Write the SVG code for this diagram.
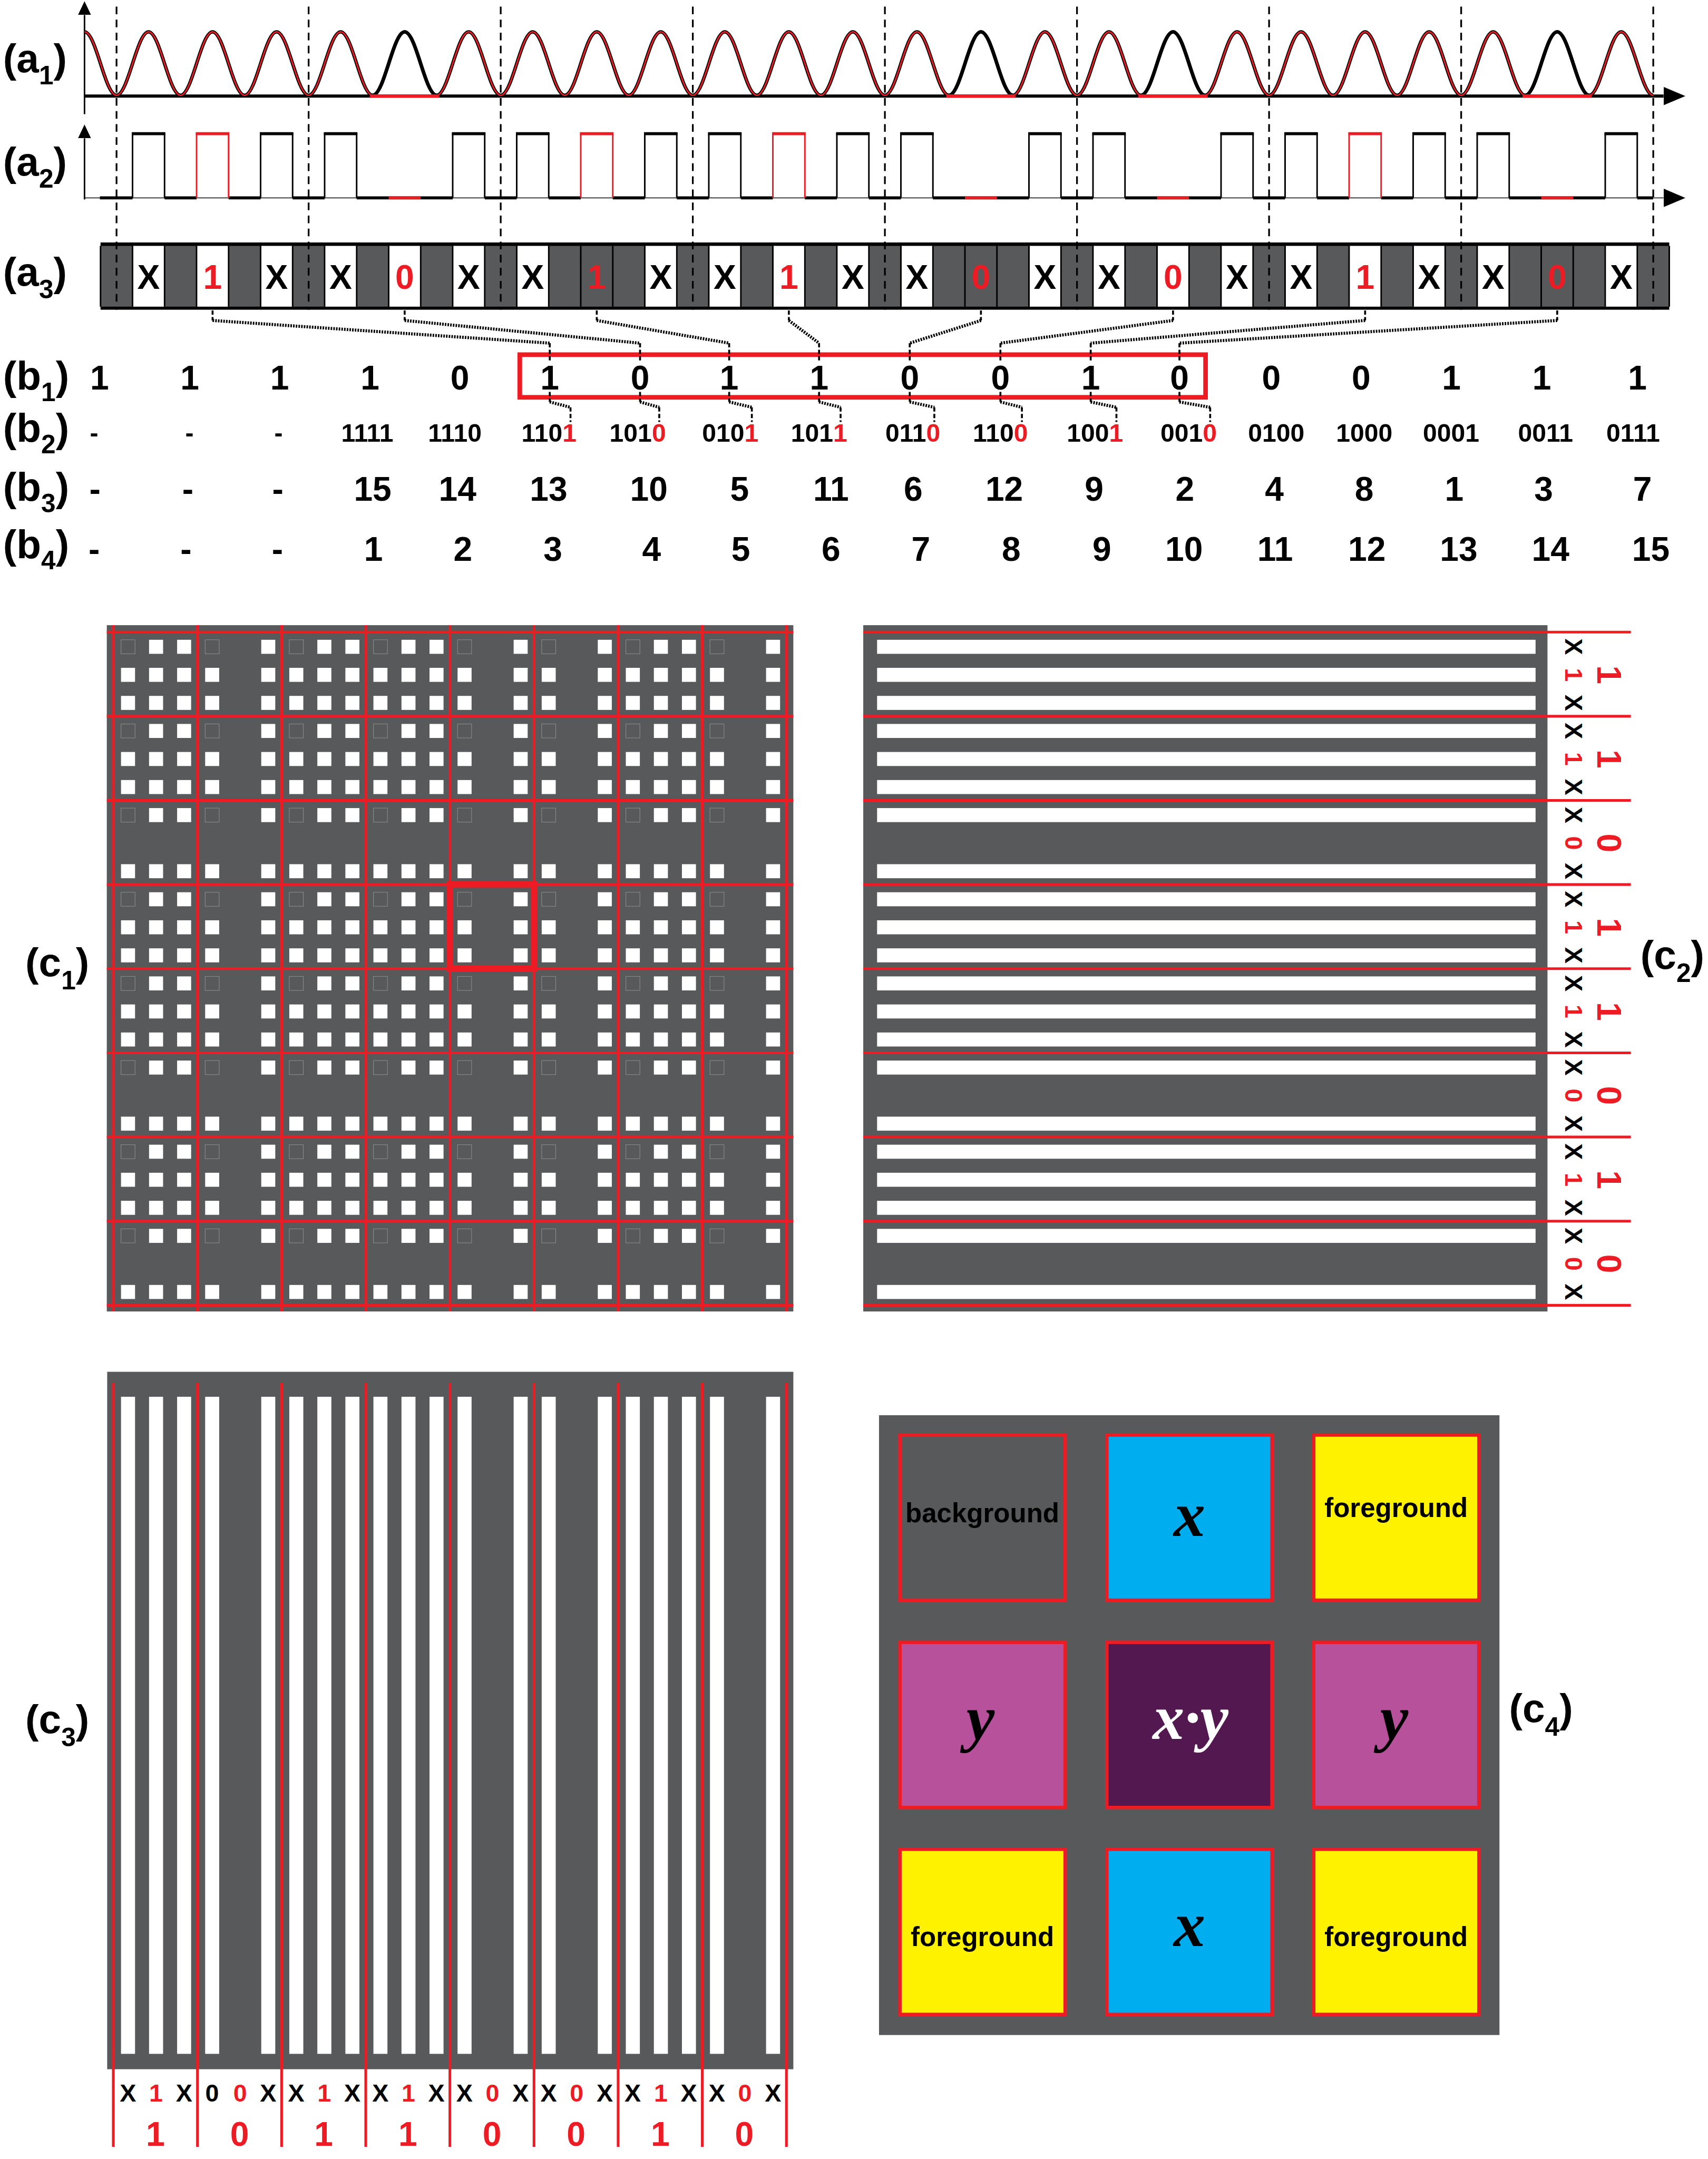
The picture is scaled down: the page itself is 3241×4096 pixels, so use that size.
<svg xmlns="http://www.w3.org/2000/svg" xmlns:xlink="http://www.w3.org/1999/xlink" width="3241" height="4096" viewBox="0 0 3241 4096">
<defs>
<style>
.t{font-family:"Liberation Sans",Arial,sans-serif;font-weight:bold;fill:#000}
.lb{font-size:105px}
.d88{font-size:88px;text-anchor:middle}
.d66{font-size:66px;text-anchor:middle}
.d64{font-size:64px;text-anchor:middle}
.red{fill:#ed1c24}
.w{fill:#fff}
.g{fill:#58595b}
.rl{stroke:#ed1c24;stroke-width:7;fill:none}
.vd{stroke:#000;stroke-width:4.5;stroke-dasharray:20 14;fill:none}
.cd{stroke:#000;stroke-width:5;stroke-dasharray:11 6;fill:none}
.cp{stroke:#000;stroke-width:8;stroke-dasharray:4 3;fill:none}
.m{font-family:"Liberation Serif","Times New Roman",serif;font-style:italic;font-weight:bold;font-size:165px;text-anchor:middle}
.cl{font-size:70px;text-anchor:middle}
.q{stroke:#ed1c24;stroke-width:9}
</style>
<marker id="ah" markerUnits="userSpaceOnUse" markerWidth="57" markerHeight="48" refX="0" refY="24" orient="auto" viewBox="0 0 57 48"><path d="M0,0L57,24L0,48z" fill="#000"/></marker>
<marker id="av" markerUnits="userSpaceOnUse" markerWidth="36" markerHeight="34" refX="0" refY="17" orient="auto" viewBox="0 0 36 34"><path d="M0,0L36,17L0,34z" fill="#000"/></marker>
<path id="wv" fill="none" d="M220,83c30.28,0 53.05,165 83.333,165
s53.05,-165 83.333,-165s53.05,165 83.333,165 s53.05,-165 83.333,-165s53.05,165 83.333,165 s53.05,-165 83.333,-165s53.05,165 83.333,165 s53.05,-165 83.333,-165s53.05,165 83.333,165
s53.05,-165 83.333,-165s53.05,165 83.333,165 s53.05,-165 83.333,-165s53.05,165 83.333,165 s53.05,-165 83.333,-165s53.05,165 83.333,165 s53.05,-165 83.333,-165s53.05,165 83.333,165
s53.05,-165 83.333,-165s53.05,165 83.333,165 s53.05,-165 83.333,-165s53.05,165 83.333,165 s53.05,-165 83.333,-165s53.05,165 83.333,165 s53.05,-165 83.333,-165s53.05,165 83.333,165
s53.05,-165 83.333,-165s53.05,165 83.333,165 s53.05,-165 83.333,-165s53.05,165 83.333,165 s53.05,-165 83.333,-165s53.05,165 83.333,165 s53.05,-165 83.333,-165s53.05,165 83.333,165
s53.05,-165 83.333,-165s53.05,165 83.333,165 s53.05,-165 83.333,-165s53.05,165 83.333,165 s53.05,-165 83.333,-165s53.05,165 83.333,165 s53.05,-165 83.333,-165s53.05,165 83.333,165
s53.05,-165 83.333,-165s53.05,165 83.333,165 s53.05,-165 83.333,-165s53.05,165 83.333,165 s53.05,-165 83.333,-165s53.05,165 83.333,165 s53.05,-165 83.333,-165s53.05,165 83.333,165"/>
<path id="zp" fill="none" d="M0,0c30.28,0 53.05,-165 83.333,-165s53.05,165 83.333,165"/>
<g id="pk"><path d="M0,167V0H83.33V167" fill="none" stroke-width="4"/><path d="M-2,0H85.33" stroke-width="8"/></g>
<rect id="wc" y="640" width="79.33" height="158" fill="#fff"/>
<g id="bF"><rect x="20" y="20" width="36.5" height="36.5" fill="none" stroke="#8b8b8d" stroke-width="1.5"/><rect class="w" x="166" y="20" width="36.5" height="36.5"/><rect class="w" x="20" y="166" width="36.5" height="36.5"/><rect class="w" x="166" y="166" width="36.5" height="36.5"/></g>
<g id="bX"><rect class="w" x="93" y="20" width="36.5" height="36.5"/><rect class="w" x="93" y="166" width="36.5" height="36.5"/></g>
<g id="bY"><rect class="w" x="20" y="93" width="36.5" height="36.5"/><rect class="w" x="166" y="93" width="36.5" height="36.5"/></g>
<rect id="bC" class="w" x="93" y="93" width="36.5" height="36.5"/>
<g id="R0"><use href="#bF" x="0"/><use href="#bF" x="219"/><use href="#bF" x="438"/><use href="#bF" x="657"/><use href="#bF" x="876"/><use href="#bF" x="1095"/><use href="#bF" x="1314"/><use href="#bF" x="1533"/><use href="#bX" x="0"/><use href="#bX" x="438"/><use href="#bX" x="657"/><use href="#bX" x="1314"/></g>
<g id="R1"><use href="#R0"/><use href="#bY" x="0"/><use href="#bY" x="219"/><use href="#bY" x="438"/><use href="#bY" x="657"/><use href="#bY" x="876"/><use href="#bY" x="1095"/><use href="#bY" x="1314"/><use href="#bY" x="1533"/><use href="#bC" x="0"/><use href="#bC" x="438"/><use href="#bC" x="657"/><use href="#bC" x="1314"/></g>
<g id="H1"><rect class="w" y="20" width="1714" height="36.5"/><rect class="w" y="93" width="1714" height="36.5"/><rect class="w" y="166" width="1714" height="36.5"/></g>
<g id="H0"><rect class="w" y="20" width="1714" height="36.5"/><rect class="w" y="166" width="1714" height="36.5"/></g>
<g id="V1"><rect class="w" x="20" width="36.5" height="1710"/><rect class="w" x="93" width="36.5" height="1710"/><rect class="w" x="166" width="36.5" height="1710"/></g>
<g id="V0"><rect class="w" x="20" width="36.5" height="1710"/><rect class="w" x="166" width="36.5" height="1710"/></g>
</defs>
<rect width="3241" height="4096" fill="#fff"/>
<g transform="scale(0.729)">

<g id="labels">
<text class="t lb" x="8" y="188">(a<tspan font-size="68" dy="32">1</tspan><tspan dy="-32">)</tspan></text>
<text class="t lb" x="8" y="457">(a<tspan font-size="68" dy="32">2</tspan><tspan dy="-32">)</tspan></text>
<text class="t lb" x="8" y="744">(a<tspan font-size="68" dy="32">3</tspan><tspan dy="-32">)</tspan></text>
<text class="t lb" x="8" y="1014">(b<tspan font-size="68" dy="30">1</tspan><tspan dy="-30">)</tspan></text>
<text class="t lb" x="8" y="1150">(b<tspan font-size="68" dy="30">2</tspan><tspan dy="-30">)</tspan></text>
<text class="t lb" x="8" y="1303">(b<tspan font-size="68" dy="30">3</tspan><tspan dy="-30">)</tspan></text>
<text class="t lb" x="8" y="1452">(b<tspan font-size="68" dy="30">4</tspan><tspan dy="-30">)</tspan></text>
<text class="t lb" x="66" y="2540">(c<tspan font-size="68" dy="35">1</tspan><tspan dy="-35">)</tspan></text>
<text class="t lb" x="4270" y="2521">(c<tspan font-size="68" dy="35">2</tspan><tspan dy="-35">)</tspan></text>
<text class="t lb" x="66" y="4510">(c<tspan font-size="68" dy="35">3</tspan><tspan dy="-35">)</tspan></text>
<text class="t lb" x="3928" y="4482">(c<tspan font-size="68" dy="35">4</tspan><tspan dy="-35">)</tspan></text>
</g>

<g id="a1">
<line x1="220" y1="297" x2="220" y2="39" stroke="#000" stroke-width="4" marker-end="url(#av)"/>
<line x1="220" y1="250" x2="4330" y2="250" stroke="#000" stroke-width="8" marker-end="url(#ah)"/>
<use href="#wv" stroke="#000" stroke-width="9"/>
<use href="#wv" stroke="#ed1c24" stroke-width="4"/>
<use href="#zp" x="970" y="248" stroke="#000" stroke-width="9"/>
<use href="#zp" x="2470" y="248" stroke="#000" stroke-width="9"/>
<use href="#zp" x="2970" y="248" stroke="#000" stroke-width="9"/>
<use href="#zp" x="3970" y="248" stroke="#000" stroke-width="9"/>
<path d="M963,250H1143M2463,250H2643M2963,250H3143M3963,250H4143" stroke="#ed1c24" stroke-width="9"/>
</g>

<g id="a2">
<line x1="220" y1="515" x2="4330" y2="515" stroke="#555" stroke-width="3" marker-end="url(#ah)"/>
<line x1="220" y1="519" x2="220" y2="360" stroke="#000" stroke-width="4" marker-end="url(#av)"/>
<path stroke="#000" stroke-width="8" fill="none" d="M260,515H345M428.33,515H511.67M595,515H678.33M761.67,515H845M928.33,515H1178.33M1261.67,515H1345M1428.33,515H1511.67M1595,515H1678.33M1761.67,515H1845M1928.33,515H2011.67M2095,515H2178.33M2261.67,515H2345M2428.33,515H2678.33M2761.67,515H2845M2928.33,515H3178.33M3261.67,515H3345M3428.33,515H3511.67M3595,515H3678.33M3761.67,515H3845M3928.33,515H4178.33M4261.67,515H4303"/>
<path stroke="#ed1c24" stroke-width="8" d="M1011.67,515H1095M2511.67,515H2595M3011.67,515H3095M4011.67,515H4095"/>
<g stroke="#000">
<use href="#pk" x="345" y="348"/><use href="#pk" x="678.33" y="348"/><use href="#pk" x="845" y="348"/><use href="#pk" x="1178.33" y="348"/><use href="#pk" x="1345" y="348"/><use href="#pk" x="1678.33" y="348"/><use href="#pk" x="1845" y="348"/><use href="#pk" x="2178.33" y="348"/><use href="#pk" x="2345" y="348"/><use href="#pk" x="2678.33" y="348"/><use href="#pk" x="2845" y="348"/><use href="#pk" x="3178.33" y="348"/><use href="#pk" x="3345" y="348"/><use href="#pk" x="3678.33" y="348"/><use href="#pk" x="3845" y="348"/><use href="#pk" x="4178.33" y="348"/>
</g>
<g stroke="#ed1c24">
<use href="#pk" x="511.67" y="348"/><use href="#pk" x="1511.67" y="348"/><use href="#pk" x="2011.67" y="348"/><use href="#pk" x="3511.67" y="348"/>
</g>
</g>

<g id="a3">
<rect x="261.67" y="631" width="4083.33" height="175" fill="#000"/>
<rect class="g" x="261.67" y="640" width="4083.33" height="158"/>
<line x1="259.67" y1="719" x2="4347" y2="719" stroke="#000" stroke-width="158" stroke-dasharray="4 79.333"/>
<use href="#wc" x="347"/><use href="#wc" x="513.67"/><use href="#wc" x="680.33"/><use href="#wc" x="847"/><use href="#wc" x="1013.67"/><use href="#wc" x="1180.33"/><use href="#wc" x="1347"/><use href="#wc" x="1680.33"/><use href="#wc" x="1847"/><use href="#wc" x="2013.67"/><use href="#wc" x="2180.33"/><use href="#wc" x="2347"/><use href="#wc" x="2680.33"/><use href="#wc" x="2847"/><use href="#wc" x="3013.67"/><use href="#wc" x="3180.33"/><use href="#wc" x="3347"/><use href="#wc" x="3513.67"/><use href="#wc" x="3680.33"/><use href="#wc" x="3847"/><use href="#wc" x="4180.33"/>
<text class="t d88" y="752"><tspan x="386.67">X</tspan><tspan x="720">X</tspan><tspan x="886.67">X</tspan><tspan x="1220">X</tspan><tspan x="1386.67">X</tspan><tspan x="1720">X</tspan><tspan x="1886.67">X</tspan><tspan x="2220">X</tspan><tspan x="2386.67">X</tspan><tspan x="2720">X</tspan><tspan x="2886.67">X</tspan><tspan x="3220">X</tspan><tspan x="3386.67">X</tspan><tspan x="3720">X</tspan><tspan x="3886.67">X</tspan><tspan x="4220">X</tspan></text>
<text class="t d88 red" y="752"><tspan x="553.33">1</tspan><tspan x="1053.33">0</tspan><tspan x="1553.33">1</tspan><tspan x="2053.33">1</tspan><tspan x="2553.33">0</tspan><tspan x="3053.33">0</tspan><tspan x="3553.33">1</tspan><tspan x="4053.33">0</tspan></text>
</g>

<g id="guides">
<path class="vd" d="M303.33,17V806M803.33,17V806M1303.33,17V806M1803.33,17V806M2303.33,17V806M2803.33,17V806M3303.33,17V806M3803.33,17V806M4303.33,17V806"/>
</g>

<rect id="b1box" x="1353" y="923" width="1785" height="111" fill="none" stroke="#ed1c24" stroke-width="12"/>

<g id="connectors">
<path class="cd" d="M553.33,808V834M1431,893V943M1431,1020V1046M1485,1060V1098M1053.33,808V834M1666,893V943M1666,1020V1046M1716,1060V1098M1553.33,808V834M1898,893V943M1898,1020V1046M1957,1060V1098M2053.33,808V834M2132,893V943M2132,1020V1046M2188,1060V1098M2553.33,808V834M2368,893V943M2368,1020V1046M2432,1060V1098M3053.33,808V834M2604,893V943M2604,1020V1046M2660,1060V1098M3553.33,808V834M2839,893V943M2839,1020V1046M2906,1060V1098M4053.33,808V834M3070,893V943M3070,1020V1046M3150,1060V1098"/>
<path class="cp" d="M553.33,834L1431,893M1431,1046L1485,1060M1053.33,834L1666,893M1666,1046L1716,1060M1553.33,834L1898,893M1898,1046L1957,1060M2053.33,834L2132,893M2132,1046L2188,1060M2553.33,834L2368,893M2368,1046L2432,1060M3053.33,834L2604,893M2604,1046L2660,1060M3553.33,834L2839,893M2839,1046L2906,1060M4053.33,834L3070,893M3070,1046L3150,1060"/>
</g>

<g id="b-rows">
<text class="t d88" y="1014"><tspan x="259">1</tspan><tspan x="494">1</tspan><tspan x="728">1</tspan><tspan x="963">1</tspan><tspan x="1197">0</tspan><tspan x="1431">1</tspan><tspan x="1666">0</tspan><tspan x="1898">1</tspan><tspan x="2132">1</tspan><tspan x="2368">0</tspan><tspan x="2604">0</tspan><tspan x="2839">1</tspan><tspan x="3070">0</tspan><tspan x="3309">0</tspan><tspan x="3543">0</tspan><tspan x="3778">1</tspan><tspan x="4013">1</tspan><tspan x="4262">1</tspan></text>
<text class="t d66" y="1150"><tspan x="245">-</tspan><tspan x="493">-</tspan><tspan x="725">-</tspan><tspan x="956">1111</tspan><tspan x="1184">1110</tspan><tspan x="1429">110<tspan class="red">1</tspan></tspan><tspan x="1660">101<tspan class="red">0</tspan></tspan><tspan x="1901">010<tspan class="red">1</tspan></tspan><tspan x="2132">101<tspan class="red">1</tspan></tspan><tspan x="2376">011<tspan class="red">0</tspan></tspan><tspan x="2604">110<tspan class="red">0</tspan></tspan><tspan x="2850">100<tspan class="red">1</tspan></tspan><tspan x="3094">001<tspan class="red">0</tspan></tspan><tspan x="3322">0100</tspan><tspan x="3551">1000</tspan><tspan x="3777">0001</tspan><tspan x="4023">0011</tspan><tspan x="4251">0111</tspan></text>
<text class="t d88" y="1303"><tspan x="247">-</tspan><tspan x="489">-</tspan><tspan x="723">-</tspan><tspan x="970">15</tspan><tspan x="1191">14</tspan><tspan x="1428">13</tspan><tspan x="1689">10</tspan><tspan x="1925">5</tspan><tspan x="2163">11</tspan><tspan x="2377">6</tspan><tspan x="2614">12</tspan><tspan x="2848">9</tspan><tspan x="3084">2</tspan><tspan x="3317">4</tspan><tspan x="3551">8</tspan><tspan x="3785">1</tspan><tspan x="4018">3</tspan><tspan x="4275">7</tspan></text>
<text class="t d88" y="1459"><tspan x="245">-</tspan><tspan x="484">-</tspan><tspan x="722">-</tspan><tspan x="972">1</tspan><tspan x="1205">2</tspan><tspan x="1439">3</tspan><tspan x="1696">4</tspan><tspan x="1928">5</tspan><tspan x="2163">6</tspan><tspan x="2397">7</tspan><tspan x="2632">8</tspan><tspan x="2868">9</tspan><tspan x="3082">10</tspan><tspan x="3319">11</tspan><tspan x="3558">12</tspan><tspan x="3797">13</tspan><tspan x="4036">14</tspan><tspan x="4297">15</tspan></text>
</g>

<g id="c1">
<rect class="g" x="278" y="1627" width="1787" height="1786"/>
<use href="#R1" x="295" y="1645"/><use href="#R1" x="295" y="1864"/><use href="#R0" x="295" y="2083"/><use href="#R1" x="295" y="2302"/><use href="#R1" x="295" y="2521"/><use href="#R0" x="295" y="2740"/><use href="#R1" x="295" y="2959"/><use href="#R0" x="295" y="3178"/>
<path class="rl" d="M278,1645H2065M278,1864H2065M278,2083H2065M278,2302H2065M278,2521H2065M278,2740H2065M278,2959H2065M278,3178H2065M278,3397H2065M295,1627V3413M514,1627V3413M733,1627V3413M952,1627V3413M1171,1627V3413M1390,1627V3413M1609,1627V3413M1828,1627V3413M2047,1627V3413"/>
<rect x="1171" y="2302" width="219" height="219" fill="none" stroke="#ed1c24" stroke-width="17"/>
</g>

<g id="c2">
<rect class="g" x="2247" y="1627" width="1781" height="1786"/>
<use href="#H1" x="2283" y="1645"/><use href="#H1" x="2283" y="1864"/><use href="#H0" x="2283" y="2083"/><use href="#H1" x="2283" y="2302"/><use href="#H1" x="2283" y="2521"/><use href="#H0" x="2283" y="2740"/><use href="#H1" x="2283" y="2959"/><use href="#H0" x="2283" y="3178"/>
<path class="rl" d="M2247,1645H4245M2247,1864H4245M2247,2083H4245M2247,2302H4245M2247,2521H4245M2247,2740H4245M2247,2959H4245M2247,3178H4245M2247,3397H4245"/>
<g class="t d64">
<text transform="translate(4074,1683) rotate(90)">X</text><text transform="translate(4074,1829) rotate(90)">X</text>
<text transform="translate(4074,1902) rotate(90)">X</text><text transform="translate(4074,2048) rotate(90)">X</text>
<text transform="translate(4074,2121) rotate(90)">X</text><text transform="translate(4074,2267) rotate(90)">X</text>
<text transform="translate(4074,2340) rotate(90)">X</text><text transform="translate(4074,2486) rotate(90)">X</text>
<text transform="translate(4074,2559) rotate(90)">X</text><text transform="translate(4074,2705) rotate(90)">X</text>
<text transform="translate(4074,2778) rotate(90)">X</text><text transform="translate(4074,2924) rotate(90)">X</text>
<text transform="translate(4074,2997) rotate(90)">X</text><text transform="translate(4074,3143) rotate(90)">X</text>
<text transform="translate(4074,3216) rotate(90)">X</text><text transform="translate(4074,3362) rotate(90)">X</text>
</g>
<g class="t d64 red">
<text transform="translate(4074,1756) rotate(90)">1</text><text transform="translate(4074,1975) rotate(90)">1</text><text transform="translate(4074,2194) rotate(90)">0</text><text transform="translate(4074,2413) rotate(90)">1</text><text transform="translate(4074,2632) rotate(90)">1</text><text transform="translate(4074,2851) rotate(90)">0</text><text transform="translate(4074,3070) rotate(90)">1</text><text transform="translate(4074,3289) rotate(90)">0</text>
</g>
<g class="t d88 red">
<text transform="translate(4158,1756) rotate(90)">1</text><text transform="translate(4158,1975) rotate(90)">1</text><text transform="translate(4158,2194) rotate(90)">0</text><text transform="translate(4158,2413) rotate(90)">1</text><text transform="translate(4158,2632) rotate(90)">1</text><text transform="translate(4158,2851) rotate(90)">0</text><text transform="translate(4158,3070) rotate(90)">1</text><text transform="translate(4158,3289) rotate(90)">0</text>
</g>
</g>

<g id="c3">
<rect class="g" x="279" y="3570" width="1786" height="1815"/>
<use href="#V1" x="295" y="3635"/><use href="#V0" x="514" y="3635"/><use href="#V1" x="733" y="3635"/><use href="#V1" x="952" y="3635"/><use href="#V0" x="1171" y="3635"/><use href="#V0" x="1390" y="3635"/><use href="#V1" x="1609" y="3635"/><use href="#V0" x="1828" y="3635"/>
<path class="rl" d="M295,3598V5587M514,3598V5587M733,3598V5587M952,3598V5587M1171,3598V5587M1390,3598V5587M1609,3598V5587M1828,3598V5587M2047,3598V5587"/>
<text class="t d64" y="5469"><tspan x="333">X</tspan><tspan x="479">X</tspan><tspan x="552">0</tspan><tspan x="698">X</tspan><tspan x="771">X</tspan><tspan x="917">X</tspan><tspan x="990">X</tspan><tspan x="1136">X</tspan><tspan x="1209">X</tspan><tspan x="1355">X</tspan><tspan x="1428">X</tspan><tspan x="1574">X</tspan><tspan x="1647">X</tspan><tspan x="1793">X</tspan><tspan x="1866">X</tspan><tspan x="2012">X</tspan></text>
<text class="t d64 red" y="5469"><tspan x="406">1</tspan><tspan x="625">0</tspan><tspan x="844">1</tspan><tspan x="1063">1</tspan><tspan x="1282">0</tspan><tspan x="1501">0</tspan><tspan x="1720">1</tspan><tspan x="1939">0</tspan></text>
<text class="t d88 red" y="5585"><tspan x="404.5">1</tspan><tspan x="623.5">0</tspan><tspan x="842.5">1</tspan><tspan x="1061.5">1</tspan><tspan x="1280.5">0</tspan><tspan x="1499.5">0</tspan><tspan x="1718.5">1</tspan><tspan x="1937.5">0</tspan></text>
</g>

<g id="c4">
<rect class="g" x="2288" y="3683" width="1615" height="1613"/>
<g id="c4-background"><rect class="q" x="2342.5" y="3734.5" width="430" height="430" fill="#58595b"/><text class="t cl" x="2557" y="3962">background</text></g>
<g id="c4-x-top"><rect class="q" x="2881" y="3734.5" width="430" height="430" fill="#00aeef"/><text class="m" x="3096" y="3997">x</text></g>
<g id="c4-fg-top"><rect class="q" x="3419.5" y="3734.5" width="430" height="430" fill="#fff200"/><text class="t cl" x="3634" y="3948">foreground</text></g>
<g id="c4-y-left"><rect class="q" x="2342.5" y="4274" width="430" height="430" fill="#b8519b"/><text class="m" x="2552" y="4527">y</text></g>
<g id="c4-xy"><rect class="q" x="2881" y="4274" width="430" height="430" fill="#541850"/><text class="m" x="3099" y="4526" fill="#fff">x·y</text></g>
<g id="c4-y-right"><rect class="q" x="3419.5" y="4274" width="430" height="430" fill="#b8519b"/><text class="m" x="3629" y="4527">y</text></g>
<g id="c4-fg-bl"><rect class="q" x="2342.5" y="4812.5" width="430" height="430" fill="#fff200"/><text class="t cl" x="2557" y="5065">foreground</text></g>
<g id="c4-x-bottom"><rect class="q" x="2881" y="4812.5" width="430" height="430" fill="#00aeef"/><text class="m" x="3096" y="5065">x</text></g>
<g id="c4-fg-br"><rect class="q" x="3419.5" y="4812.5" width="430" height="430" fill="#fff200"/><text class="t cl" x="3634" y="5065">foreground</text></g>
</g>

</g>
</svg>
